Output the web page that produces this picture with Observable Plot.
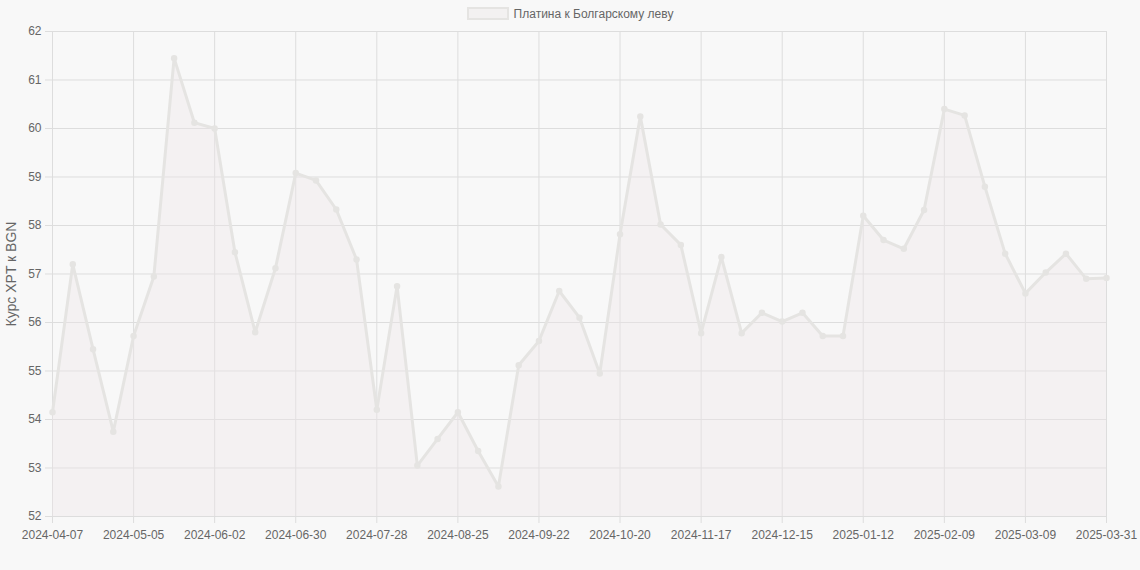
<!DOCTYPE html>
<html>
<head>
<meta charset="utf-8">
<script src="https://cdn.jsdelivr.net/npm/d3@7"></script>
<script src="https://cdn.jsdelivr.net/npm/@observablehq/plot@0.6"></script>
<style>
  html, body { margin: 0; padding: 0; background: #f8f8f8; }
  body { width: 1140px; height: 570px; overflow: hidden; font-family: "Liberation Sans", Arial, Helvetica, sans-serif; }
  #legend { height: 22px; padding-top: 5px; box-sizing: border-box; display: flex; justify-content: center; align-items: center; gap: 5px; font-size: 12px; color: #666; }
  #legend .box { width: 42px; height: 13px; background: rgba(235,228,230,0.35); border: 2px solid #e5e4e2; box-sizing: border-box; }
  #chart svg { display: block; overflow: visible; }
</style>
</head>
<body>
<div id="legend"><span class="box"></span><span>Платина к Болгарскому леву</span></div>
<div id="chart"></div>
<script>
const seriesName = "Платина к Болгарскому леву";
const yLabel = "Курс XPT к BGN";
const dates = [
  "2024-04-07","2024-04-14","2024-04-21","2024-04-28","2024-05-05","2024-05-12","2024-05-19","2024-05-26",
  "2024-06-02","2024-06-09","2024-06-16","2024-06-23","2024-06-30","2024-07-07","2024-07-14","2024-07-21",
  "2024-07-28","2024-08-04","2024-08-11","2024-08-18","2024-08-25","2024-09-01","2024-09-08","2024-09-15",
  "2024-09-22","2024-09-29","2024-10-06","2024-10-13","2024-10-20","2024-10-27","2024-11-03","2024-11-10",
  "2024-11-17","2024-11-24","2024-12-01","2024-12-08","2024-12-15","2024-12-22","2024-12-29","2025-01-05",
  "2025-01-12","2025-01-19","2025-01-26","2025-02-02","2025-02-09","2025-02-16","2025-02-23","2025-03-02",
  "2025-03-09","2025-03-16","2025-03-23","2025-03-30","2025-03-31"
];
const values = [
  54.15, 57.2, 55.45, 53.75, 55.72, 56.95, 61.45, 60.12,
  60.0, 57.45, 55.8, 57.12, 59.08, 58.93, 58.33, 57.3,
  54.2, 56.75, 53.05, 53.6, 54.15, 53.35, 52.62, 55.12,
  55.62, 56.65, 56.1, 54.95, 57.82, 60.25, 58.02, 57.6,
  55.78, 57.35, 55.78, 56.2, 56.02, 56.2, 55.72, 55.72,
  58.2, 57.7, 57.52, 58.32, 60.4, 60.27, 58.8, 57.42,
  56.6, 57.03, 57.42, 56.9, 56.92
];
const yTicks = [52, 53, 54, 55, 56, 57, 58, 59, 60, 61, 62];
const xTicks = dates.filter((d, i) => i % 4 === 0 || i === dates.length - 1);

const data = dates.map((d, i) => ({date: d, value: values[i]}));
const lineColor = "#e5e4e2";
const gridColor = "#dddddd";

const chart = Plot.plot({
  width: 1140,
  height: 548,
  marginTop: 9,
  marginBottom: 54,
  marginLeft: 52,
  marginRight: 34,
  style: {background: "transparent", fontFamily: "Liberation Sans, Arial, sans-serif", fontSize: "12px", color: "#666", overflow: "visible"},
  x: {type: "point", domain: dates, padding: 0, round: false},
  y: {domain: [52, 62]},
  marks: [
    Plot.gridY(yTicks, {stroke: gridColor, strokeOpacity: 1}),
    Plot.ruleX(xTicks, {stroke: gridColor, strokeOpacity: 1}),
    Plot.axisX({ticks: xTicks, tickSize: 7, tickPadding: 7, stroke: gridColor, fill: "#666", fontSize: 12, label: null}),
    Plot.axisY({ticks: yTicks, tickSize: 7, tickPadding: 4, stroke: gridColor, fill: "#666", fontSize: 12, label: yLabel, labelAnchor: "center", labelArrow: "none", labelOffset: 46}),
    Plot.areaY(data, {x: "date", y1: 52, y2: "value", fill: "#ede5e8", fillOpacity: 0.4}),
    Plot.line(data, {x: "date", y: "value", stroke: lineColor, strokeWidth: 3}),
    Plot.dot(data, {x: "date", y: "value", r: 2.5, fill: lineColor, stroke: lineColor})
  ]
});
chart.querySelectorAll('[aria-label="y-axis label"] text').forEach(t => { t.style.fontSize = "14px"; });
document.getElementById("chart").appendChild(chart);
</script>
</body>
</html>
